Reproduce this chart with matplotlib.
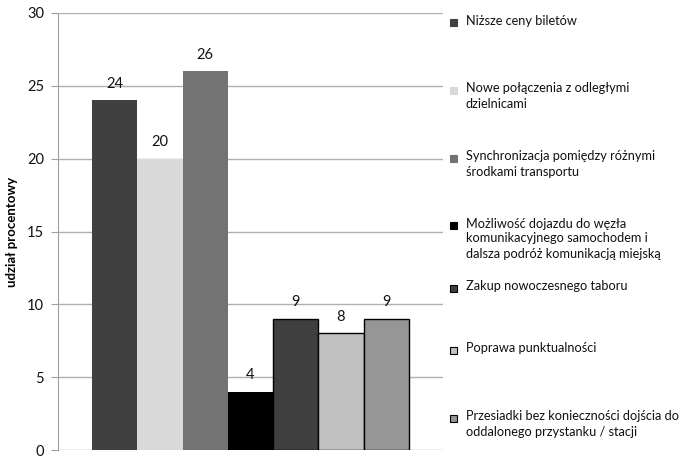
import matplotlib.pyplot as plt
from matplotlib.patches import Rectangle

plt.rcParams['font.family'] = ['Lato', 'DejaVu Sans']

# === data ===
labels = [
    "Niższe ceny biletów",
    "Nowe połączenia z odległymi\ndzielnicami",
    "Synchronizacja pomiędzy różnymi\nśrodkami transportu",
    "Możliwość dojazdu do węzła\nkomunikacyjnego samochodem i\ndalsza podróż komunikacją miejską",
    "Zakup nowoczesnego taboru",
    "Poprawa punktualności",
    "Przesiadki bez konieczności dojścia do\noddalonego przystanku / stacji",
]
values = [24, 20, 26, 4, 9, 8, 9]
colors = ['#404040', '#d9d9d9', '#737373', '#000000', '#404040', '#c0c0c0', '#969696']
edges = [None, None, None, None, '#000000', '#000000', '#000000']
yticks = [0, 5, 10, 15, 20, 25, 30]

fig = plt.figure(figsize=(6.86, 4.57), dpi=100)
ax = fig.add_axes([58 / 686, 1 - 450 / 457, 385 / 686, 437 / 457])

for i, (v, c, e) in enumerate(zip(values, colors, edges)):
    ax.bar(i, v, width=1.0, color=c,
           edgecolor=e if e else c, linewidth=1.0 if e else 0, zorder=3)
    ax.annotate(str(v), (i, v), xytext=(0, 7), textcoords='offset points',
                ha='center', va='bottom', fontsize=10.5, color='#111111')

ax.set_xlim(-1.255, 7.255)
ax.set_ylim(0, 30)
ax.set_yticks(yticks)
ax.set_xticks([])
ax.tick_params(axis='y', length=5, color='#a0a0a0', labelsize=10.5, pad=5,
               labelcolor='#111111')
ax.yaxis.grid(True, color='#b0b0b0', linewidth=1.0, zorder=0)
for s in ['top', 'right', 'bottom']:
    ax.spines[s].set_visible(False)
ax.spines['left'].set_color('#a0a0a0')
ax.set_ylabel("udział procentowy", fontsize=9.5, fontweight='bold')
ax.yaxis.set_label_coords(-40 / 385, 0.5)

# manual legend (Excel style: items spread down the right side)
leg_y = [22, 90, 158, 225, 288, 350, 418]
for lab, c, e, y in zip(labels, colors, edges, leg_y):
    fy = 1 - y / 457
    fig.patches.append(Rectangle((450 / 686, fy - 3.5 / 457), 7 / 686, 7 / 457,
                                 transform=fig.transFigure, facecolor=c,
                                 edgecolor=e if e else c, linewidth=0.8))
    fig.text(466 / 686, fy + 7.5 / 457, lab, ha='left', va='top', fontsize=9.2,
             color='#111111', linespacing=1.3)

plt.savefig("out.png", dpi=100)
